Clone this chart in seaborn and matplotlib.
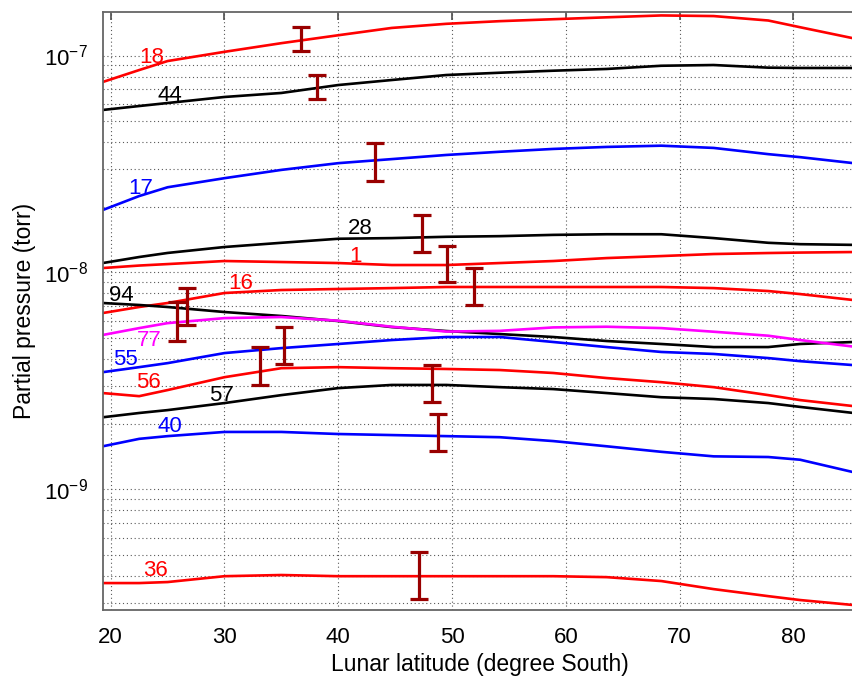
import numpy as np
import pandas as pd
import matplotlib
matplotlib.use("Agg")
import matplotlib.pyplot as plt
import seaborn as sns
from matplotlib.ticker import LogLocator, NullFormatter

# ---------------- data ----------------
lat = [19.3, 22.5, 25, 30, 35, 40, 44.7, 49.5, 54.2, 58.9, 63.6, 68.4, 73.0, 77.8, 80.6, 85.3]

m18 = [7.55e-8, 8.57e-8, 9.43e-8, 1.04e-7, 1.14e-7, 1.24e-7, 1.34e-7, 1.40e-7, 1.44e-7, 1.47e-7, 1.50e-7, 1.53e-7, 1.52e-7, 1.45e-7, 1.35e-7, 1.20e-7]
m44 = [5.61e-8, 5.85e-8, 6.04e-8, 6.44e-8, 6.72e-8, 7.31e-8, 7.71e-8, 8.13e-8, 8.33e-8, 8.51e-8, 8.67e-8, 8.97e-8, 9.04e-8, 8.79e-8, 8.76e-8, 8.76e-8]
m17 = [1.94e-8, 2.25e-8, 2.47e-8, 2.72e-8, 2.97e-8, 3.19e-8, 3.33e-8, 3.48e-8, 3.60e-8, 3.71e-8, 3.79e-8, 3.84e-8, 3.75e-8, 3.51e-8, 3.40e-8, 3.19e-8]
m28 = [1.105e-8, 1.178e-8, 1.23e-8, 1.31e-8, 1.37e-8, 1.43e-8, 1.44e-8, 1.46e-8, 1.47e-8, 1.49e-8, 1.50e-8, 1.50e-8, 1.44e-8, 1.37e-8, 1.35e-8, 1.34e-8]
m1 = [1.048e-8, 1.076e-8, 1.093e-8, 1.129e-8, 1.117e-8, 1.105e-8, 1.082e-8, 1.082e-8, 1.105e-8, 1.129e-8, 1.165e-8, 1.19e-8, 1.216e-8, 1.229e-8, 1.235e-8, 1.242e-8]
m16 = [6.50e-9, 6.93e-9, 7.23e-9, 8.04e-9, 8.30e-9, 8.39e-9, 8.47e-9, 8.57e-9, 8.57e-9, 8.57e-9, 8.57e-9, 8.57e-9, 8.47e-9, 8.21e-9, 7.95e-9, 7.46e-9]
m94 = [7.23e-9, 7.08e-9, 6.93e-9, 6.57e-9, 6.30e-9, 5.97e-9, 5.60e-9, 5.37e-9, 5.20e-9, 5.04e-9, 4.83e-9, 4.68e-9, 4.53e-9, 4.53e-9, 4.68e-9, 4.78e-9]
m77 = [5.15e-9, 5.54e-9, 5.84e-9, 6.16e-9, 6.23e-9, 5.99e-9, 5.62e-9, 5.34e-9, 5.38e-9, 5.58e-9, 5.62e-9, 5.54e-9, 5.33e-9, 5.11e-9, 4.88e-9, 4.55e-9]
m55 = [3.47e-9, 3.66e-9, 3.82e-9, 4.25e-9, 4.48e-9, 4.68e-9, 4.88e-9, 5.04e-9, 5.04e-9, 4.78e-9, 4.53e-9, 4.30e-9, 4.21e-9, 4.03e-9, 3.90e-9, 3.74e-9]
m56 = [2.78e-9, 2.69e-9, 2.87e-9, 3.29e-9, 3.62e-9, 3.66e-9, 3.62e-9, 3.59e-9, 3.55e-9, 3.44e-9, 3.26e-9, 3.12e-9, 2.96e-9, 2.72e-9, 2.58e-9, 2.42e-9]
m57 = [2.15e-9, 2.25e-9, 2.32e-9, 2.50e-9, 2.72e-9, 2.93e-9, 3.03e-9, 3.03e-9, 2.96e-9, 2.90e-9, 2.78e-9, 2.66e-9, 2.61e-9, 2.50e-9, 2.40e-9, 2.25e-9]
m40 = [1.58e-9, 1.71e-9, 1.76e-9, 1.84e-9, 1.84e-9, 1.80e-9, 1.78e-9, 1.76e-9, 1.74e-9, 1.67e-9, 1.58e-9, 1.49e-9, 1.42e-9, 1.41e-9, 1.37e-9, 1.20e-9]
m36 = [3.70e-10, 3.70e-10, 3.74e-10, 3.98e-10, 4.03e-10, 3.98e-10, 3.98e-10, 3.98e-10, 3.98e-10, 3.98e-10, 3.94e-10, 3.78e-10, 3.47e-10, 3.22e-10, 3.09e-10, 2.93e-10]

masses = ["18", "44", "17", "28", "1", "16", "94", "77", "55", "56", "57", "40", "36"]
series = [m18, m44, m17, m28, m1, m16, m94, m77, m55, m56, m57, m40, m36]
colors = ["red", "black", "blue", "black", "red", "red", "black", "magenta",
          "blue", "red", "black", "blue", "red"]

# curve label anchor points (latitude, pressure)
label_lat = [23.6, 25.2, 22.6, 41.9, 41.55, 31.4, 20.9, 23.4, 21.3, 23.3, 29.7, 25.2, 23.9]
label_p = [9.74e-8, 6.51e-8, 2.45e-8, 1.60e-8, 1.19e-8, 8.94e-9, 7.79e-9, 4.88e-9, 3.95e-9, 3.12e-9, 2.72e-9, 1.94e-9, 4.25e-10]

# error bars (latitude, low, high)
eb_lat = [36.7, 38.1, 43.2, 47.4, 49.6, 51.9, 25.8, 26.7, 33.1, 35.2, 48.2, 48.8, 47.1]
eb_hi = [1.35e-7, 8.13e-8, 3.95e-8, 1.84e-8, 1.32e-8, 1.048e-8, 7.30e-9, 8.47e-9, 4.53e-9, 5.60e-9, 3.74e-9, 2.22e-9, 5.14e-10]
eb_lo = [1.05e-7, 6.30e-8, 2.64e-8, 1.24e-8, 9.03e-9, 7.08e-9, 4.83e-9, 5.72e-9, 3.03e-9, 3.78e-9, 2.53e-9, 1.50e-9, 3.13e-10]

xticks = [20, 30, 40, 50, 60, 70, 80]
yticks = [1e-9, 1e-8, 1e-7]
ytick_labels = [r"$\mathregular{10^{-9}}$", r"$\mathregular{10^{-8}}$", r"$\mathregular{10^{-7}}$"]

# ---------------- plotting ----------------
sns.set_theme(style="white")
plt.rcParams["font.family"] = ["Liberation Sans", "DejaVu Sans"]
plt.rcParams["mathtext.fontset"] = "custom"
plt.rcParams["mathtext.rm"] = "Liberation Sans"

rows = []
for m, vals in zip(masses, series):
    for x, v in zip(lat, vals):
        rows.append({"lat": x, "p": v, "mass": m})
df = pd.DataFrame(rows)
palette = dict(zip(masses, colors))

fig = plt.figure(figsize=(8.53, 6.84), dpi=100)
ax = fig.add_axes([103 / 853, 74 / 684, 750 / 853, 598 / 684])

ax.set_yscale("log")
sns.lineplot(data=df, x="lat", y="p", hue="mass", hue_order=masses, palette=palette,
             estimator=None, sort=False, legend=False, linewidth=1.9, ax=ax)

c = np.sqrt(np.array(eb_lo) * np.array(eb_hi))
yerr = [c - np.array(eb_lo), np.array(eb_hi) - c]
ax.errorbar(eb_lat, c, yerr=yerr, fmt="none", ecolor="#990000", elinewidth=2.3,
            capsize=6.5, capthick=2.3, zorder=5)

for s, x, y, col in zip(masses, label_lat, label_p, colors):
    ax.text(x, y, s, color=col, fontsize=16, ha="center", va="center", zorder=6)

ax.set_xlim(19.32, 85.25)
ax.set_ylim(2.78e-10, 1.587e-7)
ax.set_xticks(xticks)
ax.set_xticklabels([str(t) for t in xticks])
ax.set_yticks(yticks)
ax.set_yticklabels(ytick_labels)
ax.yaxis.set_minor_locator(LogLocator(base=10, subs=np.arange(2, 10)))
ax.yaxis.set_minor_formatter(NullFormatter())

ax.grid(True, which="major", axis="both", linestyle=(0, (1, 2.5)), color="0.35", linewidth=0.8)
ax.grid(True, which="minor", axis="y", linestyle=(0, (1, 2.5)), color="0.35", linewidth=0.8)
ax.set_axisbelow(True)

ax.tick_params(which="both", direction="in", top=True, right=False, colors="0.3",
               labelcolor="black", labelsize=16)
ax.tick_params(which="major", length=6, width=1.2)
ax.tick_params(which="minor", length=4, width=1.0)
ax.tick_params(axis="x", pad=12)
ax.tick_params(axis="y", pad=11)

for side in ["left", "bottom", "top"]:
    ax.spines[side].set_color("0.4")
    ax.spines[side].set_linewidth(1.3)
ax.spines["right"].set_visible(False)

ax.set_xlabel("Lunar latitude (degree South)", fontsize=16.5, color="black")
ax.set_ylabel("Partial pressure (torr)", fontsize=16.5, color="black")
ax.xaxis.set_label_coords(0.503, -0.072)
ax.yaxis.set_label_coords(-0.089, 0.5)

fig.savefig("out.png", dpi=100)
